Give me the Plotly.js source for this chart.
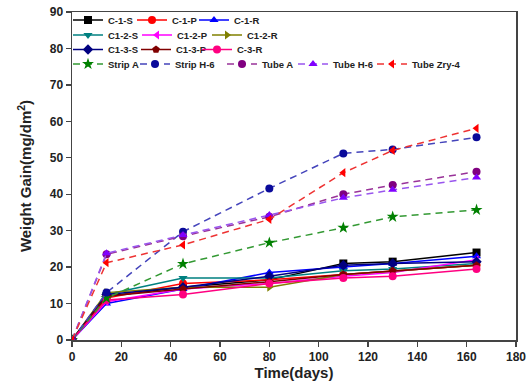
<!DOCTYPE html>
<html>
<head>
<meta charset="utf-8">
<script src="https://cdn.plot.ly/plotly-3.0.1.min.js"></script>
<style>html,body{margin:0;padding:0;background:#fff;}#chart{width:528px;height:385px;}</style>
</head>
<body>
<div id="chart"></div>
<script>
// ---- data ----
const days = [0, 14, 45, 80, 110, 130, 164];
const seriesNames = ["C-1-S","C-1-P","C-1-R","C1-2-S","C1-2-P","C1-2-R","C1-3-S","C1-3-P","C-3-R",
                     "Strip A","Strip H-6","Tube A","Tube H-6","Tube Zry-4"];
const c1S   = [0, 12.0, 14.5, 16.5, 21.0, 21.5, 24.0];
const c1P   = [0, 11.5, 15.5, 16.5, 18.0, 19.0, 20.5];
const c1R   = [0, 10.0, 14.0, 18.5, 20.0, 21.0, 23.0];
const c12S  = [0, 12.5, 17.0, 17.0, 19.0, 19.5, 21.0];
const c12P  = [0, 10.5, 14.0, 15.5, 17.5, 18.5, 22.0];
const c12R  = [0, 13.0, 14.5, 14.5, 18.0, 19.0, 20.5];
const c13S  = [0, 12.5, 14.5, 17.5, 20.5, 21.0, 21.5];
const c13P  = [0, 12.0, 14.0, 16.0, 18.0, 19.0, 20.5];
const c3R   = [0, 11.0, 12.5, 15.5, 17.0, 17.5, 19.5];
const stripA   = [0, 11.5, 20.9, 26.7, 30.8, 33.8, 35.7];
const stripH6  = [0, 13.0, 29.7, 41.6, 51.2, 52.3, 55.6];
const tubeA    = [0, 23.5, 28.5, 33.8, 40.0, 42.5, 46.2];
const tubeH6   = [0, 23.8, 28.8, 34.3, 39.0, 41.2, 44.6];
const tubeZry4 = [0, 21.2, 26.1, 33.1, 45.9, 52.0, 58.1];
const xTicks = [0, 20, 40, 60, 80, 100, 120, 140, 160, 180];
const yTicks = [0, 10, 20, 30, 40, 50, 60, 70, 80, 90];

// ---- styles ----
const values = [c1S, c1P, c1R, c12S, c12P, c12R, c13S, c13P, c3R, stripA, stripH6, tubeA, tubeH6, tubeZry4];
const styles = [
  {c:"#000000", s:"square"},
  {c:"#ff0000", s:"circle"},
  {c:"#0000ff", s:"triangle-up"},
  {c:"#008080", s:"triangle-down"},
  {c:"#ff00ff", s:"triangle-left"},
  {c:"#808000", s:"triangle-right"},
  {c:"#000080", s:"diamond"},
  {c:"#800000", s:"pentagon"},
  {c:"#ff0080", s:"circle"},
  {c:"#008000", s:"star", lc:"#339933", d:true},
  {c:"#0a0a9a", s:"circle", lc:"#4444bb", d:true},
  {c:"#800080", s:"circle", lc:"#993399", d:true},
  {c:"#8000ff", s:"triangle-up", lc:"#9955ee", d:true},
  {c:"#ff0000", s:"triangle-left", lc:"#ee3333", d:true}
];
// legend text-start pixel positions and row centres
const legText = [108,172,234, 108,177,247, 108,176,237, 108,175,262,333,412];
const legRow  = [0,0,0, 1,1,1, 2,2,2, 3,3,3,3,3];
const rowY = [20, 35, 49.5, 64];

const L = 72, R = 12, T = 12, B = 45;

const traces = [];
const layout = {
  width: 528, height: 385,
  showlegend: true,
  margin: {l: L, r: R, t: T, b: B, pad: 0, autoexpand: false},
  paper_bgcolor: "#fff", plot_bgcolor: "#fff",
  font: {family: "Arial, Liberation Sans, sans-serif", color: "#222"},
  xaxis: {
    range: [0, 180], tickvals: xTicks, ticks: "outside", ticklen: 5, tickwidth: 1.3, tickcolor: "#444",
    showline: true, linecolor: "#444", linewidth: 1.5, mirror: true, showgrid: false, zeroline: false,
    tickfont: {size: 12, family: "Arial, Liberation Sans, sans-serif", weight: "bold", color: "#222"},
    title: {text: "<b>Time(days)</b>", font: {size: 15, color: "#222"}, standoff: 4}
  },
  yaxis: {
    range: [0, 90], tickvals: yTicks, ticks: "outside", ticklen: 5, tickwidth: 1.3, tickcolor: "#444",
    showline: true, linecolor: "#444", linewidth: 1.5, mirror: true, showgrid: false, zeroline: false,
    tickfont: {size: 12, family: "Arial, Liberation Sans, sans-serif", weight: "bold", color: "#222"},
    title: {text: "<b>Weight Gain(mg/dm<sup>2</sup>)</b>", font: {size: 15, color: "#222"}, standoff: 14}
  }
};

for (let i = 0; i < values.length; i++) {
  const st = styles[i];
  const lname = i === 0 ? "legend" : "legend" + (i + 1);
  traces.push({
    type: "scatter", mode: "lines+markers", x: days, y: values[i], name: seriesNames[i],
    legend: lname, showlegend: true,
    line: {color: st.lc || st.c, width: 1.5, dash: st.d ? "7px,5px" : "solid"},
    marker: {symbol: st.s, color: st.c, size: st.s === "star" ? 9 : 8, line: {width: 0}}
  });
  layout[lname] = {
    xref: "container", yref: "container",
    x: (legText[i] - 40) / 528, y: 1 - rowY[legRow[i]] / 385,
    xanchor: "left", yanchor: "middle", orientation: "h",
    bgcolor: "rgba(0,0,0,0)", borderwidth: 0,
    font: {size: 9.5, family: "Arial, Liberation Sans, sans-serif", weight: "bold", color: "#222"},
    itemwidth: 30, tracegroupgap: 0
  };
}

Plotly.newPlot("chart", traces, layout, {displayModeBar: false, staticPlot: true});
</script>
</body>
</html>
